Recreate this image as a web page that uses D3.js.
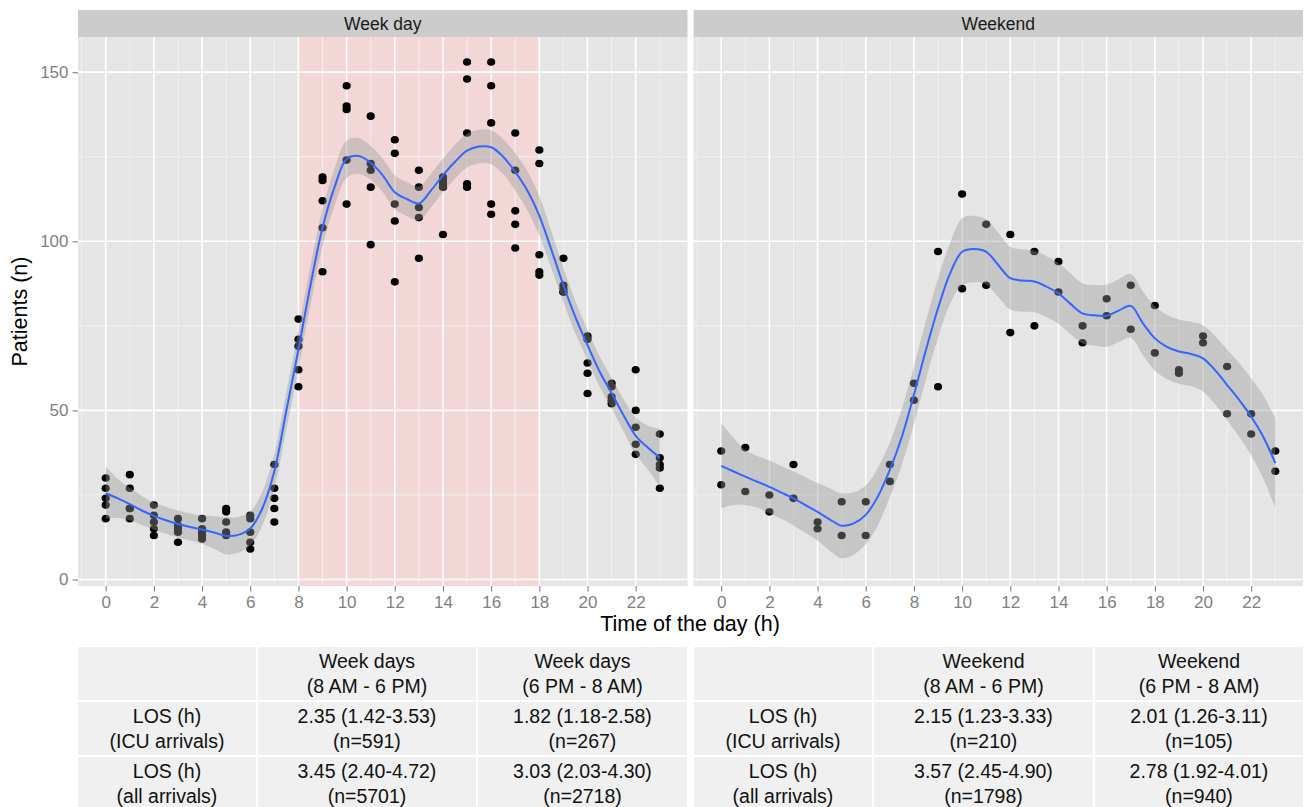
<!DOCTYPE html>
<html>
<head>
<meta charset="utf-8">
<script src="https://cdn.jsdelivr.net/npm/d3@7"></script>
<style>
  html, body { margin: 0; padding: 0; background: #fff; }
  svg { display: block; font-family: "Liberation Sans", Arial, Helvetica, sans-serif; }
</style>
</head>
<body>
<svg id="chart" width="1304" height="807"></svg>
<script>
// ---- Data ----------------------------------------------------------------
const hours = [0,1,2,3,4,5,6,7,8,9,10,11,12,13,14,15,16,17,18,19,20,21,22,23];

// Patients arriving per hour, one value per week day (Mon-Fri)
const weekdayCounts = [
  [30,27,24,22,18], [31,27,21,21,18], [22,19,17,15,13], [18,16,15,14,11],
  [18,15,14,13,12], [21,20,17,14,13], [19,18,14,11,9],  [34,27,24,21,17],
  [77,71,69,62,57], [119,118,112,104,91], [146,140,139,124,111], [137,123,121,116,99],
  [130,126,111,106,88], [121,116,110,107,95], [119,118,117,116,102], [153,148,132,117,116],
  [153,146,135,111,108], [132,121,109,105,98], [127,123,96,91,90], [95,87,86,85,85],
  [72,71,64,61,55], [58,57,54,53,52], [62,50,45,40,37], [43,36,34,33,27]
];

// Patients arriving per hour, one value per weekend day (Sat, Sun)
const weekendCounts = [
  [38,28], [39,26], [25,20], [34,24], [17,15], [23,13], [23,13], [34,29],
  [58,53], [97,57], [114,86], [105,87], [102,73], [97,75], [94,85], [75,70],
  [83,78], [87,74], [81,67], [62,61], [72,70], [63,49], [49,43], [38,32]
];

// Smoothed trend (loess) evaluated every half hour, with its confidence band
const smoothHours = d3.range(0, 23.01, 0.5);

const weekdayFit = [25.5,24.0,22.3,20.4,18.8,17.5,16.4,15.5,14.8,13.9,12.9,13.2,15.1,21.0,32.0,50.0,
  68.0,87.0,104.0,116.0,124.3,125.2,123.2,119.5,114.5,112.5,111.2,115.0,119.5,123.5,126.8,128.0,
  127.8,125.0,120.5,115.0,107.5,97.5,87.0,77.5,69.3,61.5,55.1,48.5,42.5,39.0,36.0];
const weekdayLower = [18.0,18.2,17.5,16.1,14.8,13.5,12.4,11.5,10.6,9.1,7.4,7.9,10.1,16.0,26.8,44.5,
  62.2,81.2,98.5,110.5,118.8,119.9,118.2,114.5,109.5,107.5,106.2,110.0,114.5,118.5,121.8,123.0,
  122.8,119.8,115.0,109.2,101.7,92.0,82.0,72.7,64.8,57.0,50.6,43.7,37.0,32.5,27.5];
const weekdayUpper = [33.5,29.8,27.1,24.7,22.8,21.5,20.4,19.5,19.0,18.7,18.4,18.5,20.1,26.0,37.2,55.5,
  73.8,92.8,109.5,121.5,129.8,130.5,128.2,124.5,119.5,117.5,116.2,120.0,124.5,128.5,131.8,133.0,
  132.8,130.2,126.0,120.8,113.3,103.0,92.0,82.3,73.8,66.0,59.6,53.3,48.0,45.5,44.5];

const weekendFit = [33.6,32.0,30.4,28.9,27.4,25.7,24.0,22.0,20.0,17.8,15.9,16.6,19.1,24.5,32.4,42.2,
  54.6,67.9,80.2,90.5,96.9,97.7,96.9,93.0,89.1,88.4,88.1,86.6,84.6,81.5,78.7,78.1,
  78.0,79.5,80.9,75.8,71.3,68.8,67.4,66.7,65.4,61.9,57.5,53.1,48.1,42.2,34.4];
const weekendLower = [21.0,22.0,22.0,21.2,19.6,17.9,16.0,13.8,11.5,8.6,6.3,7.4,10.4,16.0,24.3,33.9,
  46.0,59.3,71.4,81.5,87.0,87.9,87.3,83.5,79.8,79.2,79.0,77.6,75.6,72.5,69.8,69.1,
  68.8,70.2,71.5,66.4,61.8,59.3,57.9,57.2,55.6,51.8,47.0,42.2,36.7,29.9,21.1];
const weekendUpper = [46.2,42.0,38.3,36.5,35.2,33.5,32.0,30.2,28.5,27.0,25.5,25.8,27.8,33.0,40.5,50.5,
  63.0,76.5,89.0,99.5,106.8,107.5,106.5,102.5,98.4,97.6,97.2,95.6,93.6,90.5,87.6,87.1,
  87.2,88.8,90.3,85.2,80.8,78.3,76.9,76.2,75.2,72.0,68.0,64.0,59.5,54.5,47.7];

const panelTitles = ["Week day", "Weekend"];
const dayShift = [8, 18];            // highlighted working hours (week days)
const xTicks = [0,2,4,6,8,10,12,14,16,18,20,22];
const yTicks = [0,50,100,150];
const yMinor = [25,75,125];

// Length-of-stay summary tables
const weekdayHeaders = [["Week days", "(8 AM - 6 PM)"], ["Week days", "(6 PM - 8 AM)"]];
const weekendHeaders = [["Weekend", "(8 AM - 6 PM)"], ["Weekend", "(6 PM - 8 AM)"]];
const rowLabels = [["LOS (h)", "(ICU arrivals)"], ["LOS (h)", "(all arrivals)"]];
const weekdayLos = [
  [["2.35 (1.42-3.53)", "(n=591)"],  ["1.82 (1.18-2.58)", "(n=267)"]],
  [["3.45 (2.40-4.72)", "(n=5701)"], ["3.03 (2.03-4.30)", "(n=2718)"]]
];
const weekendLos = [
  [["2.15 (1.23-3.33)", "(n=210)"],  ["2.01 (1.26-3.11)", "(n=105)"]],
  [["3.57 (2.45-4.90)", "(n=1798)"], ["2.78 (1.92-4.01)", "(n=940)"]]
];

// ---- Layout --------------------------------------------------------------
const svg = d3.select("#chart");
const panelTop = 37, panelBottom = 586, stripTop = 10;
const panels = [
  { x0: 78,    x1: 687.5, counts: weekdayCounts, fit: weekdayFit, lo: weekdayLower, hi: weekdayUpper, shade: true },
  { x0: 693.5, x1: 1303,  counts: weekendCounts, fit: weekendFit, lo: weekendLower, hi: weekendUpper, shade: false }
];

const y = d3.scaleLinear().domain([-1.92, 160.4]).range([panelBottom, panelTop]);

const defs = svg.append("defs");

panels.forEach((p, i) => {
  const x = d3.scaleLinear().domain([-1.15, 24.15]).range([p.x0, p.x1]);
  const g = svg.append("g");

  defs.append("clipPath").attr("id", "clip" + i)
    .append("rect").attr("x", p.x0).attr("y", panelTop)
    .attr("width", p.x1 - p.x0).attr("height", panelBottom - panelTop);

  // panel background
  g.append("rect").attr("x", p.x0).attr("y", panelTop)
    .attr("width", p.x1 - p.x0).attr("height", panelBottom - panelTop)
    .attr("fill", "#E5E5E5");

  // working-hours band
  if (p.shade) {
    g.append("rect")
      .attr("x", x(dayShift[0])).attr("y", panelTop)
      .attr("width", x(dayShift[1]) - x(dayShift[0]))
      .attr("height", panelBottom - panelTop)
      .attr("fill", "#F3D7D7");
  }

  // minor grid
  const xMinor = d3.range(-1, 24, 2);
  g.selectAll(".xminor").data(xMinor).join("line")
    .attr("x1", d => x(d)).attr("x2", d => x(d))
    .attr("y1", panelTop).attr("y2", panelBottom)
    .attr("stroke", "#F2F2F2").attr("stroke-width", 0.9);
  g.selectAll(".yminor").data(yMinor).join("line")
    .attr("x1", p.x0).attr("x2", p.x1)
    .attr("y1", d => y(d)).attr("y2", d => y(d))
    .attr("stroke", "#F2F2F2").attr("stroke-width", 0.9);
  // major grid
  g.selectAll(".xmajor").data(xTicks).join("line")
    .attr("x1", d => x(d)).attr("x2", d => x(d))
    .attr("y1", panelTop).attr("y2", panelBottom)
    .attr("stroke", "#FFFFFF").attr("stroke-width", 1.6);
  g.selectAll(".ymajor").data(yTicks).join("line")
    .attr("x1", p.x0).attr("x2", p.x1)
    .attr("y1", d => y(d)).attr("y2", d => y(d))
    .attr("stroke", "#FFFFFF").attr("stroke-width", 1.6);

  // observations
  const pts = [];
  hours.forEach((h, k) => p.counts[k].forEach(v => pts.push([h, v])));
  g.append("g").attr("clip-path", `url(#clip${i})`)
    .selectAll("ellipse").data(pts).join("ellipse")
    .attr("cx", d => x(d[0])).attr("cy", d => y(d[1]))
    .attr("rx", 4.1).attr("ry", 3.8).attr("fill", "#000");

  // smoother: confidence band then fitted line
  const band = smoothHours.map((h, k) => ({ h, lo: p.lo[k], hi: p.hi[k], f: p.fit[k] }));
  const plot = g.append("g").attr("clip-path", `url(#clip${i})`);
  plot.append("path").datum(band)
    .attr("d", d3.area().x(d => x(d.h)).y0(d => y(d.lo)).y1(d => y(d.hi)).curve(d3.curveCatmullRom))
    .attr("fill", "#999999").attr("fill-opacity", 0.4);
  plot.append("path").datum(band)
    .attr("d", d3.line().x(d => x(d.h)).y(d => y(d.f)).curve(d3.curveCatmullRom))
    .attr("fill", "none").attr("stroke", "#3366FF").attr("stroke-width", 2);

  // strip
  svg.append("rect").attr("x", p.x0).attr("y", stripTop)
    .attr("width", p.x1 - p.x0).attr("height", panelTop - stripTop)
    .attr("fill", "#CCCCCC");
  svg.append("text").attr("x", (p.x0 + p.x1) / 2).attr("y", (stripTop + panelTop) / 2)
    .attr("text-anchor", "middle").attr("dominant-baseline", "central")
    .attr("font-size", 17.5).attr("fill", "#1A1A1A").text(panelTitles[i]);

  // x axis
  const xAxis = svg.append("g").attr("transform", `translate(0,${panelBottom})`)
    .call(d3.axisBottom(x).tickValues(xTicks).tickSize(5.5).tickPadding(4).tickFormat(d3.format("d")));
  xAxis.select(".domain").remove();
  xAxis.selectAll(".tick line").attr("stroke", "#7F7F7F").attr("stroke-width", 1.1);
  xAxis.selectAll(".tick text").attr("fill", "#7F7F7F").attr("font-size", 17)
    .attr("font-family", "Liberation Sans, Arial, sans-serif");

  // y axis (left panel only)
  if (i === 0) {
    const yAxis = svg.append("g").attr("transform", `translate(${p.x0},0)`)
      .call(d3.axisLeft(y).tickValues(yTicks).tickSize(5.5).tickPadding(4));
    yAxis.select(".domain").remove();
    yAxis.selectAll(".tick line").attr("stroke", "#7F7F7F").attr("stroke-width", 1.1);
    yAxis.selectAll(".tick text").attr("fill", "#7F7F7F").attr("font-size", 17)
      .attr("font-family", "Liberation Sans, Arial, sans-serif");
  }
});

// axis titles
svg.append("text").attr("x", 690).attr("y", 631)
  .attr("text-anchor", "middle").attr("font-size", 21.5).attr("fill", "#000")
  .text("Time of the day (h)");
svg.append("text").attr("transform", `translate(27,${(panelTop + panelBottom) / 2}) rotate(-90)`)
  .attr("text-anchor", "middle").attr("font-size", 21.5).attr("fill", "#000")
  .text("Patients (n)");

// ---- Summary tables ------------------------------------------------------
const rowTops = [647, 702, 757];
const rowH = 53;
function drawTable(cols, headers, values) {
  const g = svg.append("g");
  const cells = [];
  // header row
  cells.push({ c: 0, r: 0, lines: [] });
  headers.forEach((h, j) => cells.push({ c: j + 1, r: 0, lines: h }));
  rowLabels.forEach((lab, r) => {
    cells.push({ c: 0, r: r + 1, lines: lab });
    values[r].forEach((v, j) => cells.push({ c: j + 1, r: r + 1, lines: v }));
  });
  cells.forEach(cell => {
    const xa = cols[cell.c] + (cell.c === 0 ? 0 : 1), xb = cols[cell.c + 1] - 1;
    const top = rowTops[cell.r];
    g.append("rect").attr("x", xa).attr("y", top).attr("width", xb - xa).attr("height", rowH)
      .attr("fill", "#F0F0F0");
    const cx = (xa + xb) / 2, cy = top + rowH / 2;
    cell.lines.forEach((t, k) => {
      g.append("text").attr("x", cx).attr("y", cy + (k === 0 ? -12.5 : 12.5))
        .attr("text-anchor", "middle").attr("dominant-baseline", "central")
        .attr("font-size", 19.5).attr("fill", "#111").text(t);
    });
  });
}
drawTable([78, 257, 477, 688], weekdayHeaders, weekdayLos);
drawTable([694, 873, 1094, 1304], weekendHeaders, weekendLos);
</script>
</body>
</html>
